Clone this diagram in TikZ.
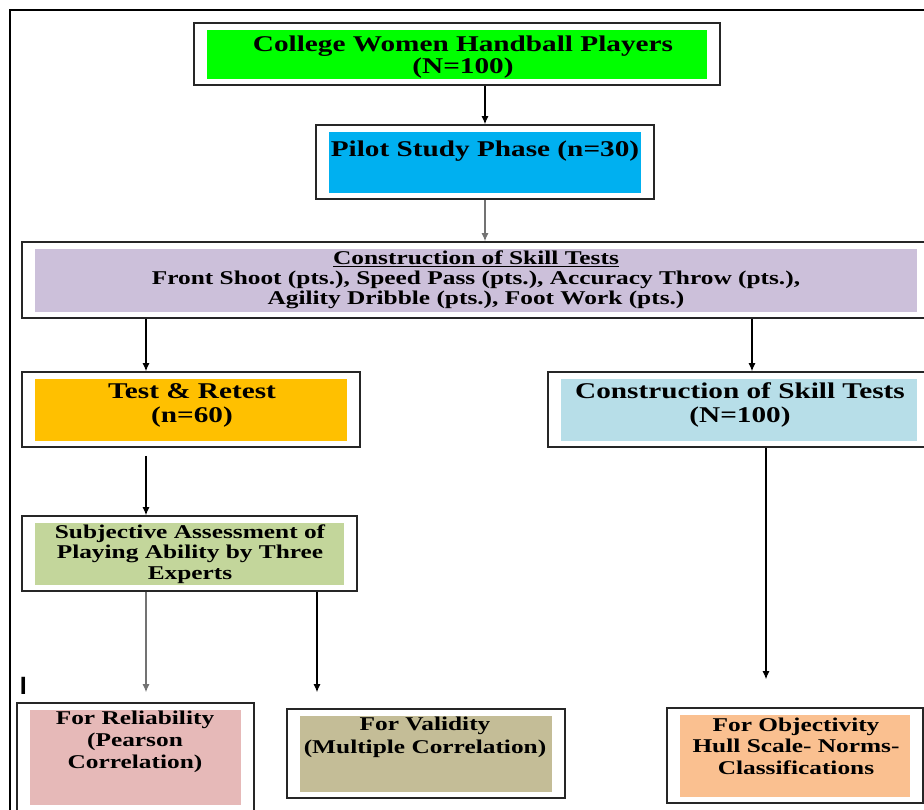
\documentclass[tikz,border=0pt]{standalone}
\usepackage{fontspec}
\setmainfont[FakeStretch=1.3]{Liberation Serif}
\newfontfamily\strayfont{Liberation Sans}
\usepackage{xcolor}
\usetikzlibrary{arrows.meta}

\definecolor{cgreen}{HTML}{00FF00}
\definecolor{cblue}{HTML}{00B0F0}
\definecolor{clavender}{HTML}{CCC0DA}
\definecolor{corange}{HTML}{FFC000}
\definecolor{cskyblue}{HTML}{B7DEE8}
\definecolor{csage}{HTML}{C3D69B}
\definecolor{cpink}{HTML}{E6B9B8}
\definecolor{ctan}{HTML}{C4BD97}
\definecolor{cpeach}{HTML}{FAC090}

\begin{document}
\begin{tikzpicture}[x=1pt, y=-1pt,
  phase/.style={draw=black!85, line width=1.6pt, fill=white, inner sep=0pt,
    path picture={\fill[#1] ([shift={(13,6.5)}]path picture bounding box.north west)
      rectangle ([shift={(-13,-6.5)}]path picture bounding box.south east);}},
  big/.style={align=center, inner sep=0pt, font=\fontsize{22.5}{24}\selectfont\bfseries},
  small/.style={align=center, inner sep=0pt, font=\fontsize{19.5}{21}\selectfont\bfseries},
  arrow/.style={-{Latex[length=8pt,width=7pt]}, line width=1.1pt},
  faint/.style={draw=black!55}
]
\useasboundingbox (0,0) rectangle (924,809);

% page frame (left and top only)
\draw[line width=2.5pt] (10,815) -- (10,10) -- (930,10);

% columns used by the vertical connectors
\coordinate (colA) at (146,0);
\coordinate (colB) at (317,0);
\coordinate (colC) at (752,0);
\coordinate (colD) at (766,0);

% upper chain
\node[phase=cgreen, minimum width=526pt, minimum height=62pt] (players) at (457,54) {};
\node[big, font=\fontsize{22.5}{21.5}\selectfont\bfseries] (playersTxt) at (463,57) {College Women Handball Players\\(N=100)};

\node[phase=cblue, minimum width=338pt, minimum height=74pt] (pilot) at (485,162) {};
\node[big] (pilotTxt) at (485,151) {Pilot Study Phase (n=30)};

\node[phase=clavender, minimum width=908pt, minimum height=76pt] (skills) at (476,280) {};
\node[small, font=\fontsize{19.5}{20}\selectfont\bfseries] (skillsTxt) at (476,280) {\underline{Construction of Skill Tests}\\Front Shoot (pts.), Speed Pass (pts.), Accuracy Throw (pts.),\\Agility Dribble (pts.), Foot Work (pts.)};

% middle row
\node[phase=corange, minimum width=338pt, minimum height=75pt] (retest) at (191,409.5) {};
\node[big] (retestTxt) at (192,405) {Test \& Retest\\(n=60)};

\node[phase=cskyblue, minimum width=382pt, minimum height=75pt] (normtests) at (739,409.5) {};
\node[big] (normtestsTxt) at (740,405) {Construction of Skill Tests\\(N=100)};

\node[phase=csage, minimum width=335pt, minimum height=75pt] (subjective) at (189.5,553.5) {};
\node[small, font=\fontsize{19.5}{20.5}\selectfont\bfseries] (subjectiveTxt) at (190,554) {Subjective Assessment of\\Playing Ability by Three\\Experts};

% bottom row
\node[phase=cpink, minimum width=237pt, minimum height=108pt] (reliab) at (135.5,757) {};
\node[small, font=\fontsize{19.5}{22}\selectfont\bfseries] (reliabTxt) at (135,742) {For Reliability\\(Pearson\\Correlation)};

\node[phase=ctan, minimum width=278pt, minimum height=89pt] (valid) at (426,753.5) {};
\node[small, font=\fontsize{19.5}{23}\selectfont\bfseries] (validTxt) at (425,737) {For Validity\\(Multiple Correlation)};

\node[phase=cpeach, minimum width=256pt, minimum height=95pt] (objective) at (795,755.5) {};
\node[small, font=\fontsize{19.5}{21.5}\selectfont\bfseries] (objectiveTxt) at (796,746) {For Objectivity\\Hull Scale- Norms-\\Classifications};

\node[font=\strayfont\fontsize{25}{25}\selectfont\bfseries, inner sep=0pt] (stray) at (23.3,686) {I};

% connectors
\draw[arrow] (players.south -| pilot.north) -- (pilot.north);
\draw[arrow, faint] (pilot.south) -- (pilot.south |- skills.north);
\draw[arrow] (skills.south -| colA) -- (retest.north -| colA);
\draw[arrow] (skills.south -| colC) -- (normtests.north -| colC);
\draw[arrow, shorten <=8pt] (retest.south -| colA) -- (subjective.north -| colA);
\draw[arrow, faint, shorten >=10pt] (subjective.south -| colA) -- (reliab.north -| colA);
\draw[arrow, shorten >=16pt] (subjective.south -| colB) -- (valid.north -| colB);
\draw[arrow, shorten >=28pt] (normtests.south -| colD) -- (objective.north -| colD);

\end{tikzpicture}
\end{document}
